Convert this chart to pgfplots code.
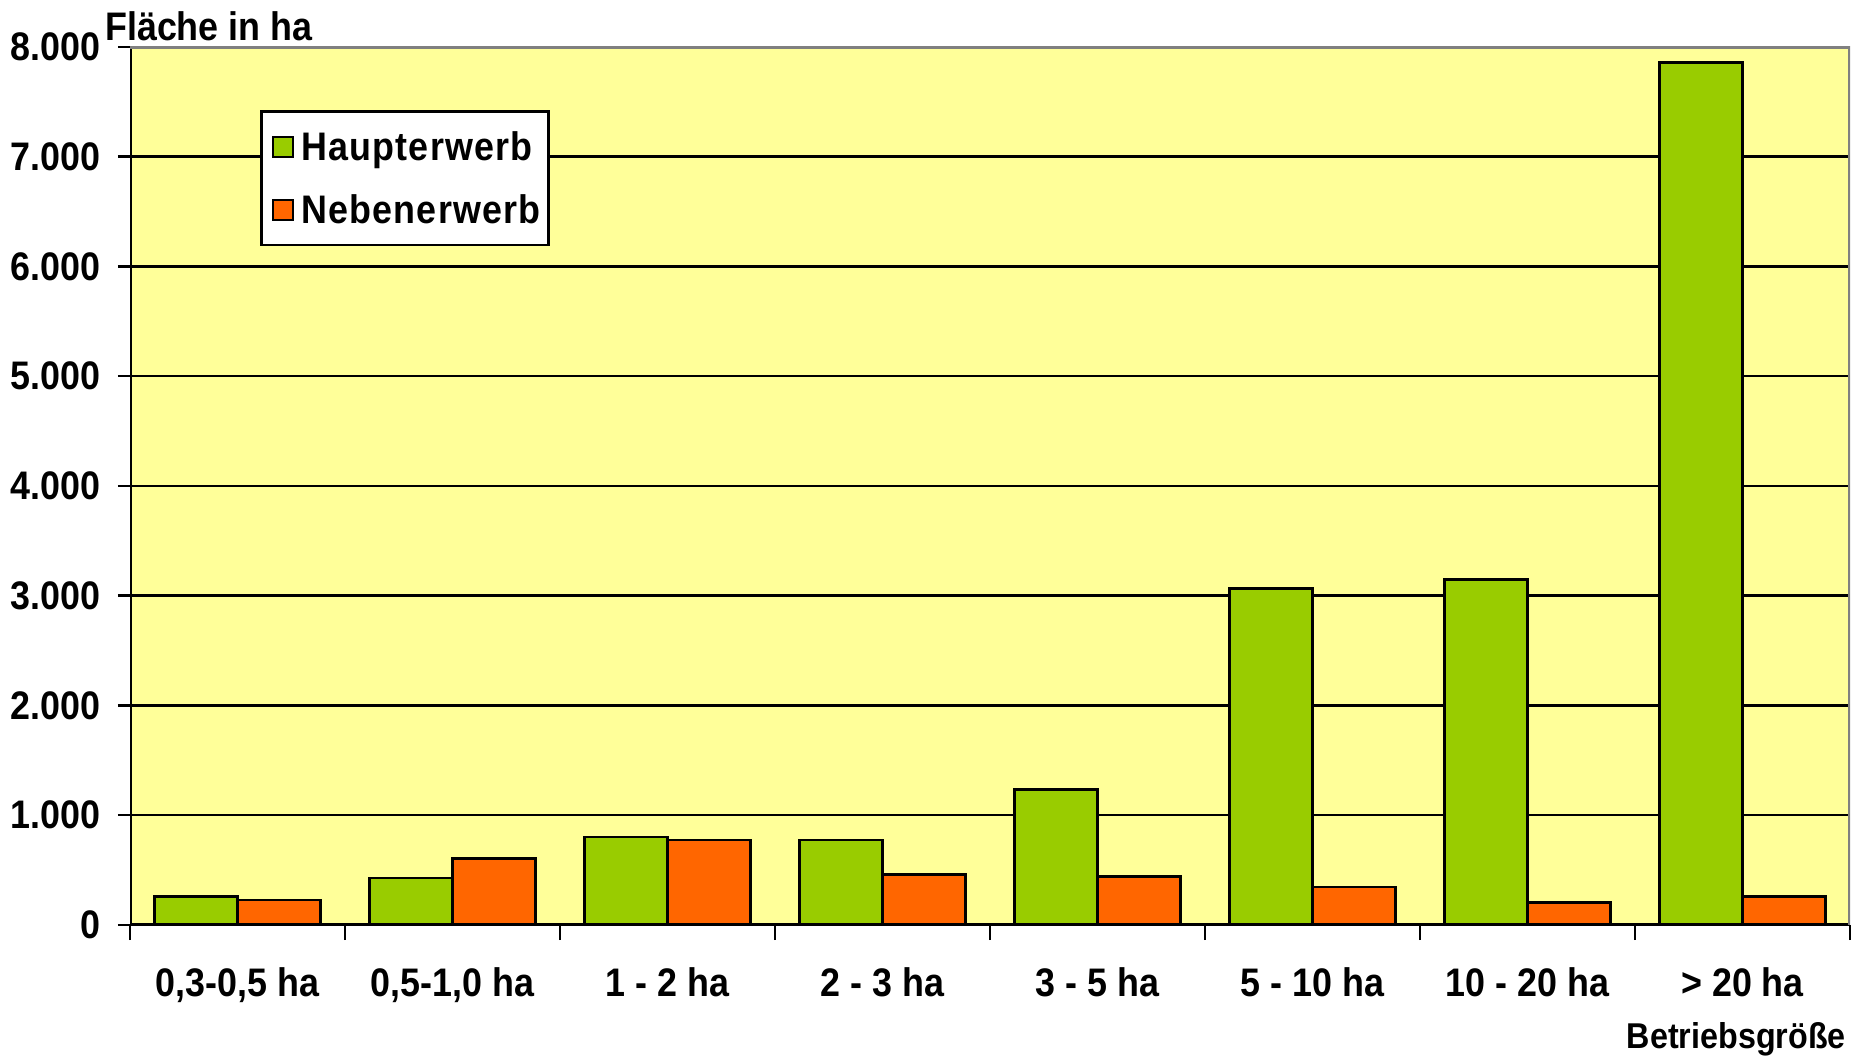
\documentclass[border=0pt]{standalone}
\usepackage{pgfplots}
\pgfplotsset{compat=1.18}
\usepackage{fontspec}
\setmainfont{Liberation Sans}[FakeStretch=0.9]
\newfontfamily\legfont{Liberation Sans}[FakeStretch=0.9, LetterSpace=3]
\definecolor{bg}{HTML}{FFFF99}
\definecolor{gr}{HTML}{99CC00}
\definecolor{orr}{HTML}{FF6600}
\newcommand\cf{\fontsize{40}{44}\selectfont\bfseries}
\begin{document}
\begin{tikzpicture}
\path[use as bounding box] (0,0) rectangle (1852bp,1057bp);
\begin{axis}[
  at={(130bp,132bp)}, anchor=south west,
  scale only axis, width=1720bp, height=878bp,
  xmin=-0.5, xmax=7.5, ymin=0, ymax=8000,
  ybar=0pt, bar width=0.385,
  axis background/.style={fill=bg},
  axis line style={draw=none},
  tick align=outside,
  xtick pos=bottom, ytick pos=left,
  xtick={0,...,7},
  xticklabels={{0,3-0,5 ha},{0,5-1,0 ha},{1 - 2 ha},{2 - 3 ha},{3 - 5 ha},{5 - 10 ha},{10 - 20 ha},{> 20 ha}},
  major x tick style={draw=none},
  minor xtick={-0.5,0.5,...,7.5},
  minor x tick style={black, line width=2.5bp},
  minor tick length=15bp,
  major tick length=12bp,
  ytick={0,1000,...,8000},
  yticklabels={0,1.000,2.000,3.000,4.000,5.000,6.000,7.000,8.000},
  major y tick style={black, line width=2.5bp},
  ymajorgrids, grid style={black, line width=2.5bp},
  tick label style={font=\cf},
  /pgf/number format/assume math mode=true,
  xticklabel style={yshift=-27bp},
  yticklabel style={xshift=-14bp},
  legend style={at={(0.0756,0.928)}, anchor=north west, draw=black, line width=2.5bp,
    fill=white, font=\legfont\fontsize{40}{44}\selectfont\bfseries, row sep=29bp, inner xsep=6bp, inner ysep=18bp},
  legend cell align=left,
  legend image code/.code={\path[draw=none, fill=none] (0bp,0bp) rectangle (32bp,1bp);
    \draw[#1, draw=black, line width=2bp] (6bp,-10bp) rectangle (26bp,10bp);},
]
\addplot[fill=gr, draw=black, line width=2.5bp] coordinates {(0,260) (1,430) (2,800) (3,775) (4,1235) (5,3065) (6,3150) (7,7860)};
\addplot[fill=orr, draw=black, line width=2.5bp] coordinates {(0,230) (1,605) (2,775) (3,460) (4,440) (5,345) (6,205) (7,260)};
\legend{Haupterwerb, Nebenerwerb}
\draw[black, line width=3bp] (rel axis cs:0,1) -- (rel axis cs:0,0) -- (rel axis cs:1,0);
\draw[gray, line width=4bp] (rel axis cs:0,1) -- (rel axis cs:1,1) -- (rel axis cs:1,0);
\end{axis}
\node[anchor=base west, font=\cf, inner sep=0] at (105bp,1016bp) {Fläche in ha};
\node[anchor=base east, font=\fontsize{36}{40}\selectfont\bfseries, inner sep=0] at (1846bp,9bp) {Betriebsgröße};
\end{tikzpicture}
\end{document}
